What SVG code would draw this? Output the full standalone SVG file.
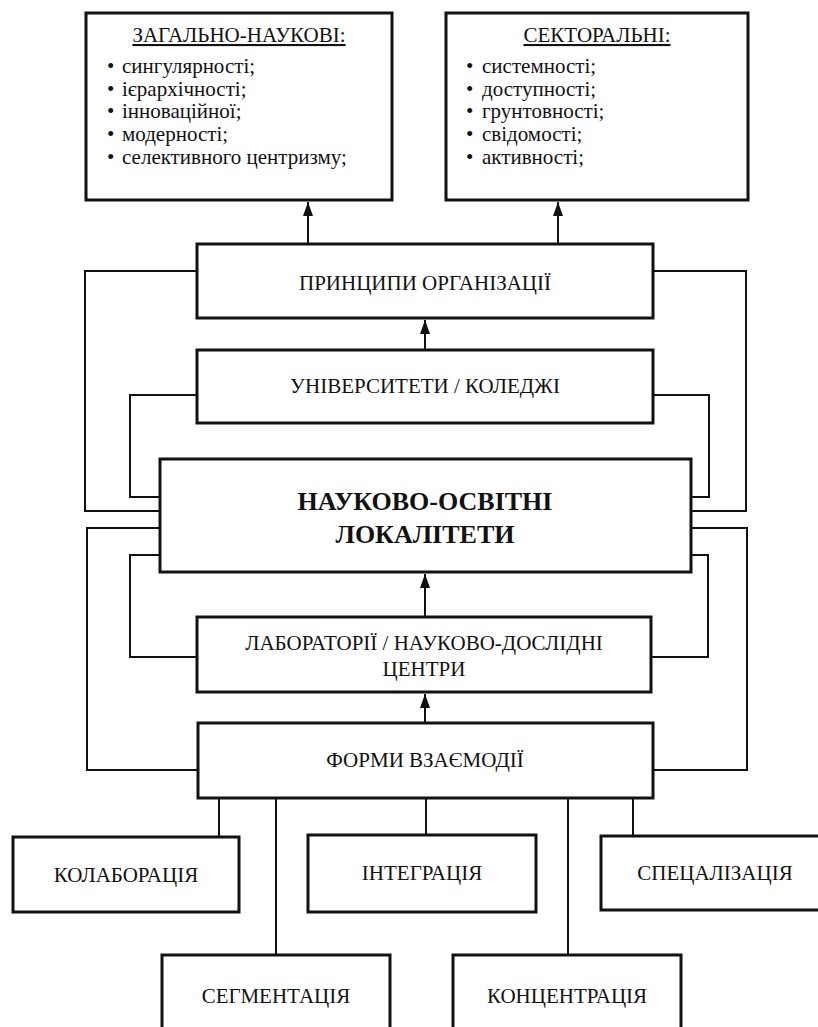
<svg xmlns="http://www.w3.org/2000/svg" width="818" height="1027" viewBox="0 0 818 1027">
<style>
.box{fill:#fff;stroke:#111;stroke-width:3}
.t{font-family:"Liberation Serif","DejaVu Serif",serif;font-size:21px;fill:#111;text-anchor:middle}
.b{font-weight:bold;font-size:26px}
.l{font-family:"Liberation Serif","DejaVu Serif",serif;font-size:21px;fill:#111}
.u{text-decoration:underline}
.c{fill:none;stroke:#111;stroke-width:2}
</style>
<defs>
<marker id="arr" viewBox="0 0 14 10" refX="14" refY="5" markerWidth="14" markerHeight="10" markerUnits="userSpaceOnUse" orient="auto">
<path d="M0,0 L14,5 L0,10 z" fill="#111"/>
</marker>
</defs>
<g id="connectors">
<line class="c" x1="308" y1="243" x2="308" y2="202" marker-end="url(#arr)"/>
<line class="c" x1="558" y1="243" x2="558" y2="202" marker-end="url(#arr)"/>
<line class="c" x1="425" y1="349" x2="425" y2="320" marker-end="url(#arr)"/>
<line class="c" x1="425" y1="616" x2="425" y2="574" marker-end="url(#arr)"/>
<line class="c" x1="425" y1="722" x2="425" y2="694" marker-end="url(#arr)"/>
<polyline class="c" points="197,271 85,271 85,511 160,511"/>
<polyline class="c" points="653,271 746,271 746,511 691,511"/>
<polyline class="c" points="197,395 130,395 130,497 160,497"/>
<polyline class="c" points="653,395 709,395 709,497 691,497"/>
<polyline class="c" points="160,528 87,528 87,770 198,770"/>
<polyline class="c" points="691,528 747,528 747,770 653,770"/>
<polyline class="c" points="160,555 130,555 130,657 197,657"/>
<polyline class="c" points="691,555 708,555 708,657 651,657"/>
<line class="c" x1="219" y1="798" x2="219" y2="837"/>
<line class="c" x1="276" y1="798" x2="276" y2="955"/>
<line class="c" x1="426" y1="798" x2="426" y2="835"/>
<line class="c" x1="568" y1="798" x2="568" y2="955"/>
<line class="c" x1="633" y1="798" x2="633" y2="836"/>
</g>
<g id="general">
<rect class="box" x="86" y="13" width="306" height="187"/>
<text class="t u" x="239" y="42">ЗАГАЛЬНО-НАУКОВІ:</text>
<text class="l" x="107" y="73">•</text>
<text class="l" x="107" y="96">•</text>
<text class="l" x="107" y="118">•</text>
<text class="l" x="107" y="141">•</text>
<text class="l" x="107" y="164">•</text>
<text class="l" x="122" y="73">сингулярності;</text>
<text class="l" x="122" y="96">ієрархічності;</text>
<text class="l" x="122" y="118">інноваційної;</text>
<text class="l" x="122" y="141">модерності;</text>
<text class="l" x="122" y="164">селективного центризму;</text>
</g>
<g id="sectoral">
<rect class="box" x="446" y="13" width="302" height="187"/>
<text class="t u" x="597" y="42">СЕКТОРАЛЬНІ:</text>
<text class="l" x="466" y="73">•</text>
<text class="l" x="466" y="96">•</text>
<text class="l" x="466" y="118">•</text>
<text class="l" x="466" y="141">•</text>
<text class="l" x="466" y="164">•</text>
<text class="l" x="482" y="73">системності;</text>
<text class="l" x="482" y="96">доступності;</text>
<text class="l" x="482" y="118">грунтовності;</text>
<text class="l" x="482" y="141">свідомості;</text>
<text class="l" x="482" y="164">активності;</text>
</g>
<g id="principles">
<rect class="box" x="197" y="244" width="456" height="74"/>
<text class="t" x="425" y="290">ПРИНЦИПИ ОРГАНІЗАЦІЇ</text>
</g>
<g id="universities">
<rect class="box" x="197" y="350" width="456" height="73"/>
<text class="t" x="425" y="393">УНІВЕРСИТЕТИ / КОЛЕДЖІ</text>
</g>
<g id="localities">
<rect class="box" x="160" y="459" width="531" height="113"/>
<text class="t b" x="425" y="510">НАУКОВО-ОСВІТНІ</text>
<text class="t b" x="425" y="543">ЛОКАЛІТЕТИ</text>
</g>
<g id="labs">
<rect class="box" x="197" y="617" width="454" height="75"/>
<text class="t" x="424" y="650">ЛАБОРАТОРІЇ / НАУКОВО-ДОСЛІДНІ</text>
<text class="t" x="424" y="676">ЦЕНТРИ</text>
</g>
<g id="forms">
<rect class="box" x="198" y="723" width="455" height="75"/>
<text class="t" x="425" y="767">ФОРМИ ВЗАЄМОДІЇ</text>
</g>
<g id="collaboration">
<rect class="box" x="13" y="837" width="226" height="75"/>
<text class="t" x="126" y="882">КОЛАБОРАЦІЯ</text>
</g>
<g id="integration">
<rect class="box" x="308" y="835" width="228" height="77"/>
<text class="t" x="422" y="880">ІНТЕГРАЦІЯ</text>
</g>
<g id="specialization">
<rect class="box" x="601" y="836" width="230" height="74"/>
<text class="t" x="715" y="880">СПЕЦАЛІЗАЦІЯ</text>
</g>
<g id="segmentation">
<rect class="box" x="162" y="955" width="228" height="90"/>
<text class="t" x="276" y="1003">СЕГМЕНТАЦІЯ</text>
</g>
<g id="concentration">
<rect class="box" x="453" y="955" width="228" height="90"/>
<text class="t" x="567" y="1003">КОНЦЕНТРАЦІЯ</text>
</g>
</svg>
